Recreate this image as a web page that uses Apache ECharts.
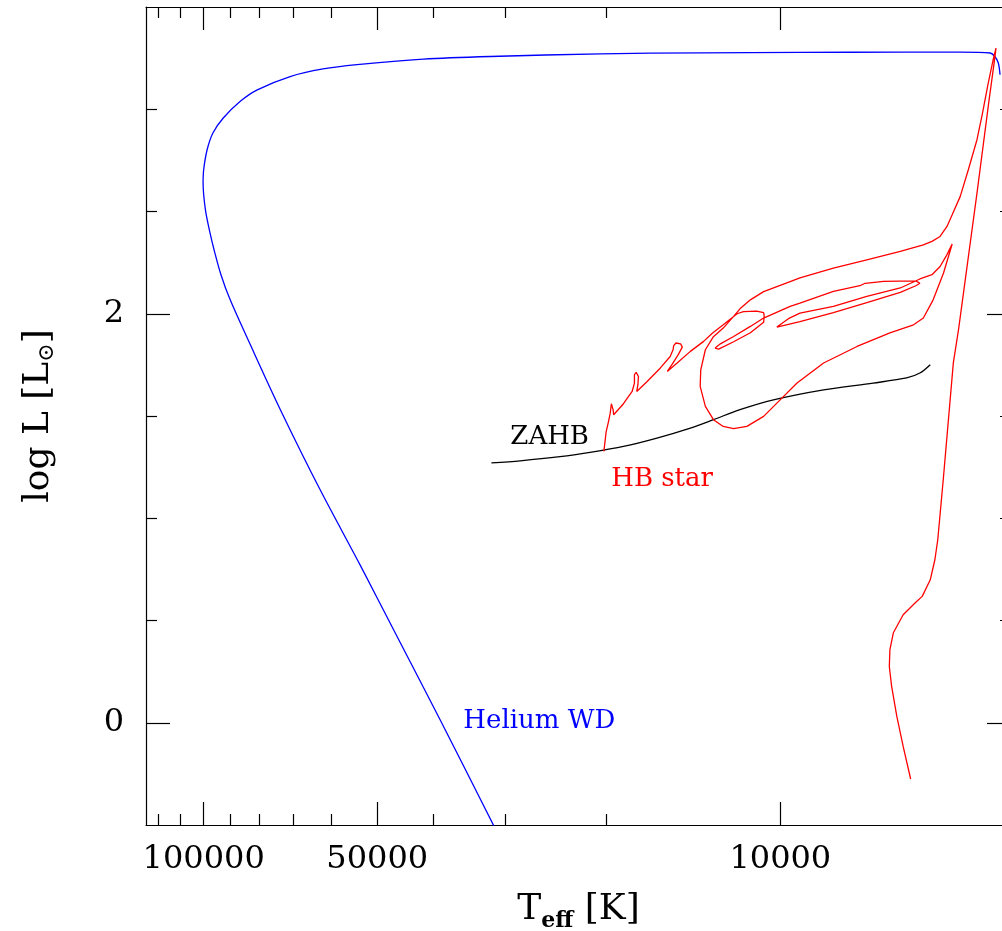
<!DOCTYPE html>
<html>
<head>
<meta charset="utf-8">
<script src="https://cdn.jsdelivr.net/npm/echarts@6.0.0/dist/echarts.min.js"></script>
<style>
  html, body { margin: 0; padding: 0; background: #fff; }
  #chart { width: 1002px; height: 931px; }
</style>
</head>
<body>
<div id="chart"></div>
<script>
// axis ticks (Teff in K, log L in solar units)
const majorTickTeff = [100000, 50000, 10000]
const minorTickTeff = [120000, 110000, 90000, 80000, 70000, 60000, 40000, 30000, 20000]
const majorTickLogL = [0, 2]
const minorTickLogL = [0.5, 1, 1.5, 2.5, 3]

// helium white dwarf track
const wdLogTeff = [3.619, 3.622, 3.628, 3.636, 3.688, 3.792, 3.966, 4.139, 4.312, 4.503, 4.619, 4.734, 4.793, 4.850, 4.907, 4.937, 4.966, 4.984, 4.994, 5.000, 5.001, 4.997, 4.989, 4.982, 4.970, 4.954, 4.919, 4.867, 4.798, 4.729, 4.659, 4.590, 4.494]
const wdLogL = [3.169, 3.226, 3.258, 3.275, 3.279, 3.279, 3.278, 3.276, 3.271, 3.258, 3.245, 3.218, 3.197, 3.160, 3.095, 3.038, 2.957, 2.884, 2.802, 2.704, 2.639, 2.509, 2.395, 2.313, 2.191, 2.068, 1.848, 1.531, 1.139, 0.773, 0.391, 0.015, -0.520]

// zero age horizontal branch
const zahbLogTeff = [4.501, 4.451, 4.382, 4.330, 4.272, 4.214, 4.156, 4.116, 4.070, 4.012, 3.925, 3.839, 3.781, 3.758, 3.740]
const zahbLogL = [1.271, 1.281, 1.301, 1.322, 1.351, 1.392, 1.441, 1.482, 1.531, 1.579, 1.628, 1.661, 1.686, 1.710, 1.751]

// HB star track: RGB, tip, flash loops, down to the ZAHB
const hbLogTeff = [
  3.774, 3.787, 3.798, 3.807, 3.811, 3.810, 3.804, 3.787, 3.766, 3.754, 3.740, 3.732, 3.727, 3.717, 3.700, 3.691, 3.659, 3.638, 3.629, 3.626,
  3.631, 3.640, 3.650, 3.659, 3.674, 3.688, 3.702, 3.711, 3.723, 3.737, 3.752, 3.792, 3.850, 3.908, 3.966, 3.983, 4.029, 4.052, 4.070, 4.081,
  4.099, 4.116, 4.130, 4.138, 4.139, 4.130, 4.116, 4.099, 4.081, 4.058, 4.029, 4.006, 3.971, 3.925, 3.867, 3.810, 3.769, 3.752, 3.735, 3.717, 3.702,
  3.711, 3.723, 3.737, 3.758,
  3.792, 3.850, 3.908, 3.966, 3.986, 4.006,
  3.997, 3.966, 3.908, 3.850, 3.792, 3.765, 3.758,
  3.765, 3.821, 3.853, 3.862, 3.908, 3.966, 3.983, 4.029,
  4.052, 4.081, 4.104, 4.113, 4.107, 4.081, 4.052, 4.029,
  4.028, 4.029, 4.041, 4.064, 4.075,
  4.099, 4.118, 4.133, 4.156, 4.179, 4.196,
  4.188, 4.177, 4.170, 4.173, 4.181, 4.185, 4.186, 4.191, 4.208, 4.231, 4.249,
  4.247, 4.246, 4.250, 4.253, 4.253, 4.257, 4.272, 4.289,
  4.290, 4.293, 4.295, 4.298, 4.302, 4.304, 4.306
]
const hbLogL = [
  -0.275, -0.116, 0.031, 0.178, 0.275, 0.357, 0.440, 0.528, 0.587, 0.618, 0.699, 0.797, 0.895, 1.204, 1.760, 1.922, 2.590, 3.046, 3.232, 3.299,
  3.242, 3.120, 2.973, 2.851, 2.704, 2.574, 2.484, 2.427, 2.378, 2.354, 2.337, 2.305, 2.264, 2.223, 2.175, 2.157, 2.108, 2.068, 2.024, 1.987,
  1.930, 1.888, 1.824, 1.726, 1.645, 1.547, 1.482, 1.449, 1.438, 1.449, 1.498, 1.563, 1.661, 1.759, 1.840, 1.906, 1.946, 1.979, 2.068, 2.199, 2.341,
  2.289, 2.231, 2.191, 2.170,
  2.126, 2.085, 2.036, 2.003, 1.976, 1.935,
  1.941, 1.961, 2.005, 2.054, 2.105, 2.137, 2.149,
  2.161, 2.158, 2.149, 2.137, 2.109, 2.052, 2.036, 1.979,
  1.938, 1.889, 1.853, 1.832, 1.827, 1.863, 1.907, 1.958,
  1.990, 2.006, 2.013, 2.010, 2.000,
  1.946, 1.905, 1.865, 1.816, 1.759, 1.718,
  1.751, 1.800, 1.837, 1.853, 1.857, 1.844, 1.824, 1.791, 1.735, 1.669, 1.620,
  1.653, 1.693, 1.713, 1.702, 1.661, 1.620, 1.560, 1.506,
  1.531, 1.560, 1.514, 1.473, 1.424, 1.376, 1.327
]

// text labels in the plot
const labelText = ['ZAHB', 'HB star', 'Helium WD']
const labelLogTeff = [4.400, 4.205, 4.418]
const labelLogL = [1.394, 1.193, 0.005]

const font = 'DejaVu Serif'
const labelColors = ['#000000', '#ff0000', '#0000ff']
const zip = (xs, ys) => xs.map((x, i) => [x, ys[i]])
const frame = { color: '#000', width: 1.2 }

const xAxis = (position, ticks, len, labels) => ({
  type: 'value',
  min: 3.6,
  max: 5.1,
  inverse: true,
  position,
  axisLine: { show: len > 15, onZero: false, lineStyle: frame },
  axisTick: { show: true, inside: true, length: len, customValues: ticks.map(Math.log10), lineStyle: frame },
  axisLabel: labels
    ? {
        show: true,
        customValues: labels.map(Math.log10),
        formatter: v => String(Math.round(Math.pow(10, v))),
        fontFamily: font,
        fontSize: 32,
        color: '#000',
        margin: 19,
      }
    : { show: false },
  splitLine: { show: false },
})

const yAxis = (position, ticks, len, labels) => ({
  type: 'value',
  min: -0.5,
  max: 3.5,
  position,
  axisLine: { show: len > 15, onZero: false, lineStyle: frame },
  axisTick: { show: true, inside: true, length: len, customValues: ticks, lineStyle: frame },
  axisLabel: labels
    ? { show: true, customValues: labels, fontFamily: font, fontSize: 32, color: '#000', margin: 22 }
    : { show: false },
  splitLine: { show: false },
})

const xAxes = [
  xAxis('bottom', majorTickTeff, 23, majorTickTeff),
  xAxis('bottom', minorTickTeff, 11),
  xAxis('top', majorTickTeff, 23),
  xAxis('top', minorTickTeff, 11),
]
Object.assign(xAxes[0], {
  name: 'T{sub|eff} [K]',
  nameLocation: 'middle',
  nameGap: 63,
  nameTextStyle: {
    fontFamily: font,
    fontSize: 36,
    color: '#000',
    rich: { sub: { fontFamily: font, fontSize: 22, fontWeight: 'bold', color: '#000', padding: [22, 0, 0, 0] } },
  },
})

const yAxes = [
  yAxis('left', majorTickLogL, 24, majorTickLogL),
  yAxis('left', minorTickLogL, 11),
  yAxis('right', majorTickLogL, 24),
  yAxis('right', minorTickLogL, 11),
]
Object.assign(yAxes[0], {
  name: 'log L [L{sub|⊙}]',
  nameLocation: 'middle',
  nameGap: 88,
  nameTextStyle: {
    fontFamily: font,
    fontSize: 36,
    color: '#000',
    rich: { sub: { fontFamily: font, fontSize: 22, color: '#000', padding: [16, 0, 0, 0] } },
  },
})

const chart = echarts.init(document.getElementById('chart'))
chart.setOption({
  animation: false,
  backgroundColor: '#fff',
  grid: { left: 146, width: 865, top: 7, height: 818, outerBoundsMode: 'none' },
  xAxis: xAxes,
  yAxis: yAxes,
  series: [
    {
      type: 'line',
      data: zip(wdLogTeff, wdLogL),
      symbol: 'none',
      smooth: 0.3,
      silent: true,
      lineStyle: { color: '#0000ff', width: 1.3 },
      itemStyle: { color: '#0000ff' },
    },
    {
      type: 'line',
      data: zip(zahbLogTeff, zahbLogL),
      symbol: 'none',
      smooth: 0.3,
      silent: true,
      lineStyle: { color: '#000', width: 1.3 },
      itemStyle: { color: '#000' },
    },
    {
      type: 'line',
      data: zip(hbLogTeff, hbLogL),
      symbol: 'none',
      silent: true,
      lineStyle: { color: '#ff0000', width: 1.3 },
      itemStyle: { color: '#ff0000' },
    },
    {
      type: 'custom',
      silent: true,
      clip: false,
      data: labelText.map((t, i) => [labelLogTeff[i], labelLogL[i], i]),
      renderItem: (params, api) => {
        const i = api.value(2)
        const p = api.coord([api.value(0), api.value(1)])
        return {
          type: 'text',
          x: p[0],
          y: p[1],
          style: {
            text: labelText[i],
            fill: labelColors[i],
            font: '26px "' + font + '"',
            align: 'center',
            verticalAlign: 'middle',
          },
        }
      },
    },
  ],
})
</script>
</body>
</html>
